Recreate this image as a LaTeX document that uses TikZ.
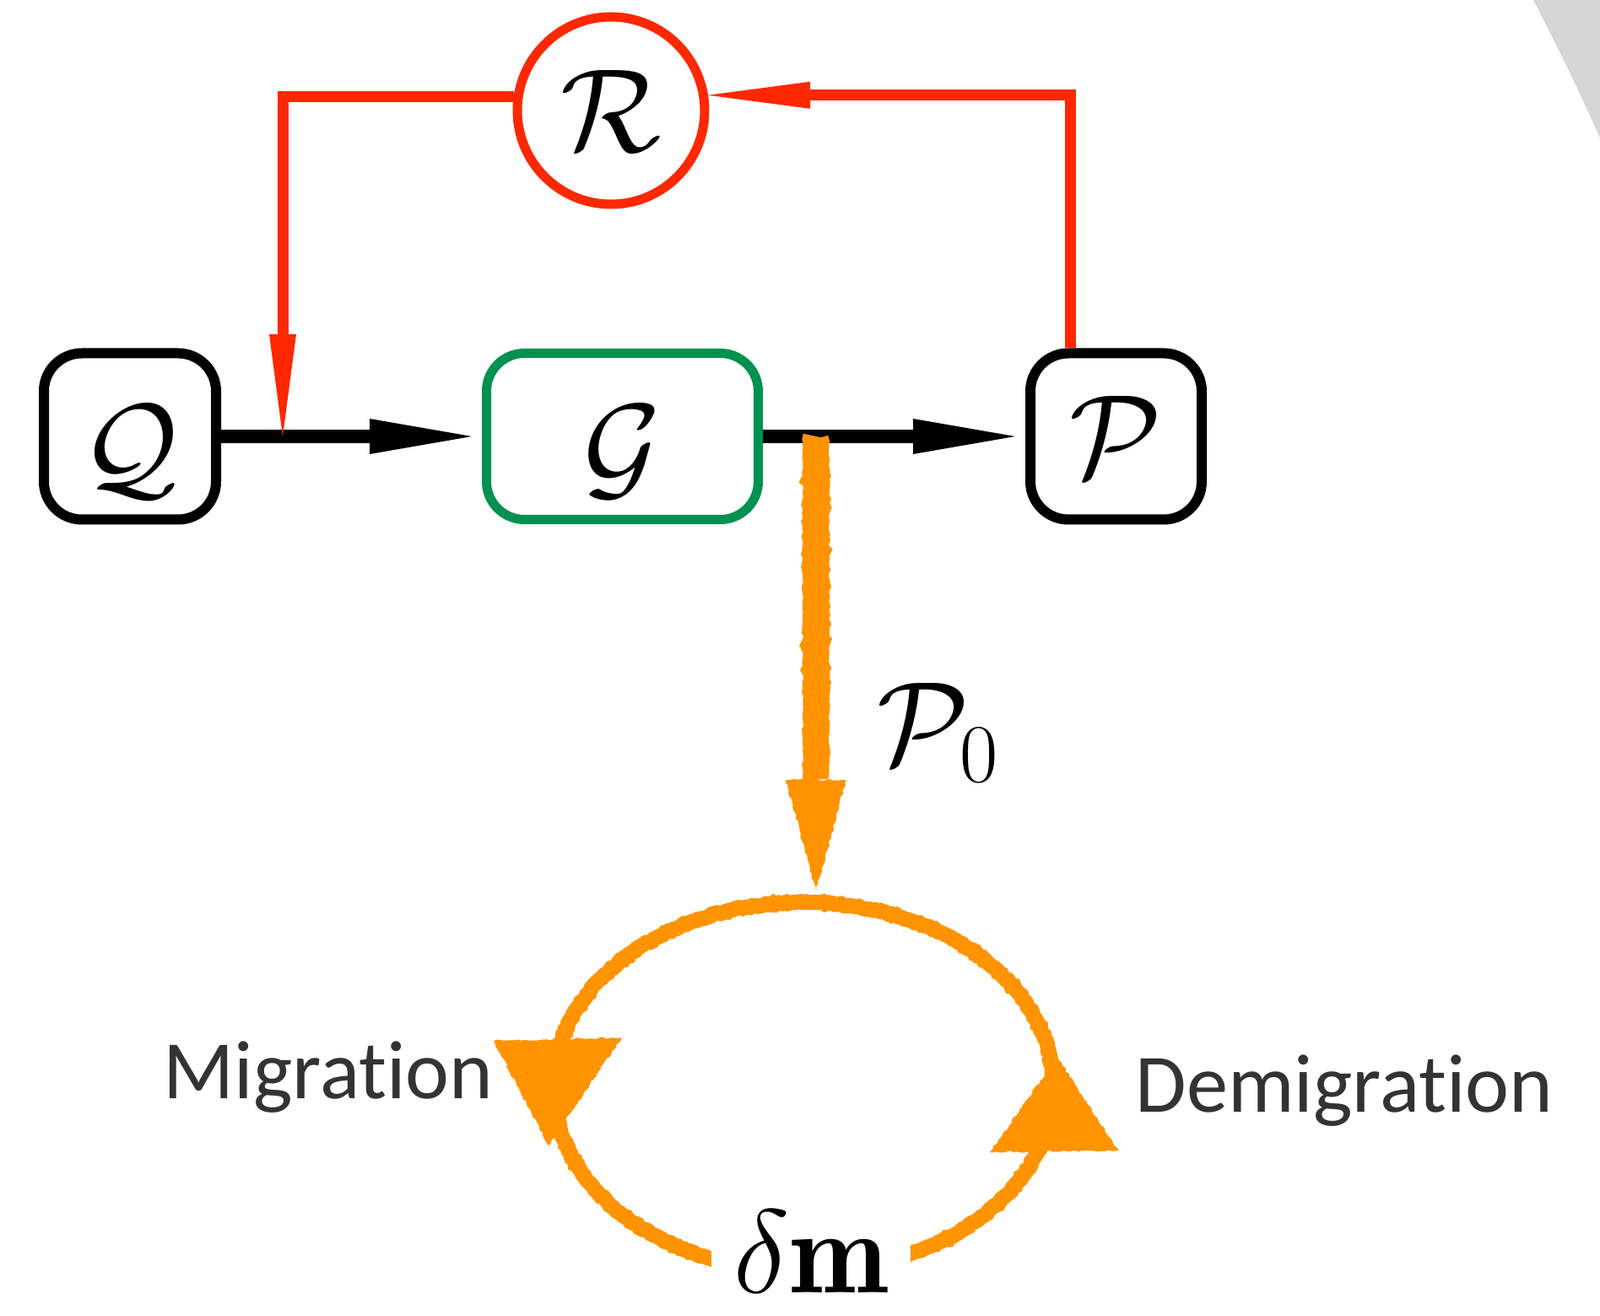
\RequirePackage{fix-cm}
\documentclass[tikz,border=0pt]{standalone}
\usepackage{amsmath,amssymb}
\usepackage{fontspec}
\newfontfamily\labelfont[Ligatures=NoCommon]{Carlito}
\usepackage{tikz}
\usetikzlibrary{arrows.meta,decorations.pathmorphing}

\definecolor{loopred}{RGB}{255,40,0}
\definecolor{boxgreen}{RGB}{0,145,80}
\definecolor{rough}{RGB}{255,148,0}
\definecolor{textgray}{RGB}{51,51,51}

\begin{document}
\begin{tikzpicture}[
  every node/.style={font=\fontsize{40}{44}\selectfont},
  block/.style={draw, line width=1.2mm, rounded corners=4.5mm, minimum height=1.97cm, inner sep=0pt},
  low/.style={text height=1.2cm, text depth=0pt},
  flow/.style={line width=1.6mm, -{Triangle[length=12.1mm,width=4.2mm,line width=0pt]}, shorten >=1.2mm},
  feedback/.style={draw=loopred, line width=1.3mm, -{Triangle[length=12.1mm,width=3.2mm,line width=0pt]}},
  crayon/.style={rough, decorate, decoration={random steps, segment length=1pt, amplitude=0.35pt}},
  word/.style={font=\labelfont\fontsize{28}{30}\selectfont, text=textgray}]
 \useasboundingbox (0,0) rectangle (18.96,15.59);
 \fill[black!16] (18.17,15.59) .. controls (18.45,15.05) and (18.72,14.5) .. (18.96,13.95) -- (18.96,15.59) -- cycle;

 % top row
 \node[block, low, minimum width=2.04cm] (Q) at (1.54,10.42) {$\mathcal{Q}$};
 \node[block, low, draw=boxgreen, line width=1.1mm, minimum width=3.22cm] (G) at (7.375,10.42) {$\mathcal{G}$};
 \node[block, minimum width=2.03cm] (P) at (13.225,10.42) {$\mathcal{P}$};
 \node[circle, draw=loopred, line width=1.1mm, minimum size=2.22cm, inner sep=0pt] (R) at (7.24,14.28) {$\mathcal{R}$};

 \coordinate (join) at (3.35,10.42);
 \coordinate (split) at (9.67,10.42);
 \coordinate (Pout) at ([xshift=5.35mm]P.north west);

 \draw[flow] (Q) -- (G);
 \draw[flow] (G) -- (P);
 \draw[feedback] (R.172) -| (join);
 \draw[feedback] (Pout) |- (R.9);

 % the loop
 \node[minimum width=5.92cm, minimum height=4.38cm, inner sep=0pt] (ring) at (9.52,2.71) {};
 \coordinate (land) at (9.67,5.04);
 \coordinate (stem) at (9.67,6.35);
 \draw[crayon, line width=1.8mm] (ring.center) ellipse [x radius=2.96cm, y radius=2.19cm];
 \draw[crayon, line width=3.1mm] (split) -- (stem);
 \fill[crayon] ([xshift=-3.6mm]stem) -- ([xshift=3.6mm]stem) -- (land) -- cycle;
 \fill[crayon] ([shift={(-3.02,-0.69)}]ring.center) -- ([shift={(-3.67,0.55)}]ring.center) -- ([shift={(-2.15,0.59)}]ring.center) -- cycle;
 \fill[crayon] ([shift={(3.01,0.36)}]ring.center) -- ([shift={(2.21,-0.77)}]ring.center) -- ([shift={(3.73,-0.75)}]ring.center) -- cycle;

 \node[anchor=east] (P0) at (11.97,6.91) {$\mathcal{P}_0$};
 \node[fill=white, minimum width=2.36cm, inner ysep=0pt, anchor=base] (dm) at (9.61,0.27) {$\delta\mathbf{m}$};
 \node[word, anchor=base] (mig) at (3.89,2.57) {Migrat\kern0pt ion};
 \node[word, anchor=base] (demig) at (15.93,2.41) {Demigrat\kern0pt ion};
\end{tikzpicture}
\end{document}
